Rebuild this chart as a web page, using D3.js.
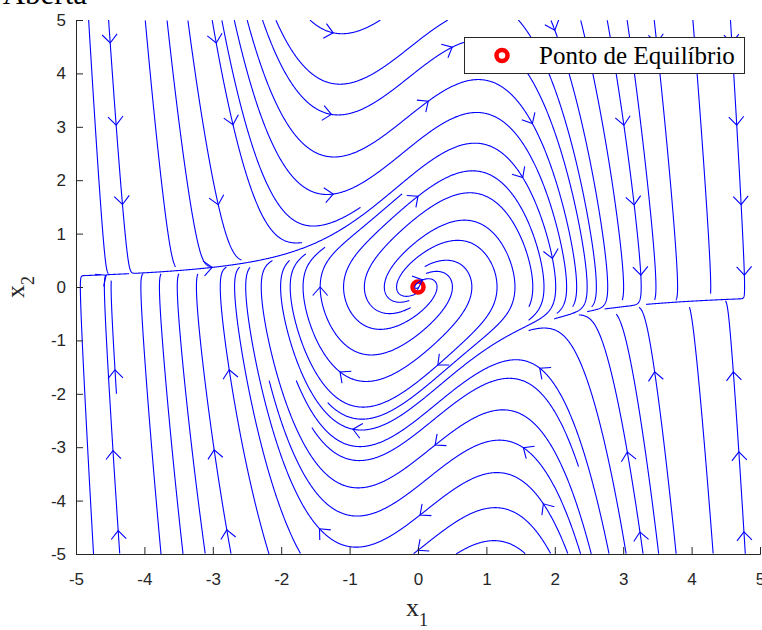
<!DOCTYPE html>
<html>
<head>
<meta charset="utf-8">
<script src="https://cdnjs.cloudflare.com/ajax/libs/d3/7.8.5/d3.min.js"></script>
<style>
  body { margin: 0; background: #fff; }
  svg { display: block; }
</style>
</head>
<body>
<div id="chart"></div>
<script>
var width = 762,
    height = 630;

// axis ticks
var xTicks = [-5, -4, -3, -2, -1, 0, 1, 2, 3, 4, 5];
var yTicks = [-5, -4, -3, -2, -1, 0, 1, 2, 3, 4, 5];

// region where the field was sampled (x1 grid stops a little before 5)
var fieldX = [-5, 4.8],
    fieldY = [-5, 5];

// Van der Pol system, x1' = x2, x2' = mu(1 - x1^2)x2 - x1
// mu = 1 fits the flow: it settles on x2 ~ 0.2 at x1 = -5 and x2 ~ -0.2 at x1 = 4.7
var mu = 1;

// arrowheads (x1, x2)
var arrowPts = [
    [-4.50, 4.57], [-4.42, 3.03], [-4.33, 1.54], [-2.95, 4.57], [-2.72, 3.03], [-2.92, 1.54],
    [-4.56, 0.22], [-3.01, 0.37], [-1.24, 4.76], [0.50, 4.49], [-1.26, 3.26], [0.15, 3.48],
    [-1.24, 1.74], [0.00, 1.70], [1.54, 2.06], [-1.43, 0.00], [0.07, 0.13], [2.00, 4.81],
    [1.68, 3.07], [3.01, 3.03], [4.66, 3.03], [3.17, 1.54], [4.72, 1.54], [1.99, 0.54],
    [3.25, 0.22], [4.75, 0.22], [3.49, 4.57], [4.61, 4.57], [-4.43, -1.55], [-4.36, -3.05],
    [-4.27, -4.55], [-2.76, -1.55], [-2.98, -3.05], [-2.78, -4.55], [0.29, -1.46], [-1.14, -1.59],
    [-0.95, -2.68], [0.25, -2.96], [1.54, -3.01], [0.03, -4.27], [-1.46, -4.55], [0.00, -4.93],
    [1.78, -1.52], [3.46, -1.59], [4.61, -1.59], [3.06, -3.09], [4.69, -3.09], [1.81, -4.08],
    [3.25, -4.59], [4.75, -4.59]
];

var equilibrium = [[0, 0]];
var legendLabels = ["Ponto de Equilíbrio"];

var x = d3.scaleLinear().domain([-5, 5]).range([76, 760]);
var y = d3.scaleLinear().domain([-5, 5]).range([554, 20]);

var svg = d3.select("#chart")
    .append("svg")
    .attr("width", width)
    .attr("height", height)
    .attr("font-family", "'Liberation Sans', Arial, sans-serif");

svg.append("defs").append("clipPath")
    .attr("id", "plotclip")
    .append("rect")
    .attr("x", 76).attr("y", 20)
    .attr("width", 684).attr("height", 534);

// ---- streamlines, same idea as matlab streamslice ----
var nStart = 20, nEnd = 80;
var startGrid = new Uint8Array(nStart * nStart),
    endGrid = new Uint8Array(nEnd * nEnd);
var xr = fieldX[1] - fieldX[0], yr = fieldY[1] - fieldY[0];

function cellOf(p, n) {
    var c = Math.min(n - 1, Math.max(0, Math.floor((p[0] - fieldX[0]) / xr * n)));
    var r = Math.min(n - 1, Math.max(0, Math.floor((p[1] - fieldY[0]) / yr * n)));
    return r * n + c;
}

function inside(p) {
    return p[0] >= fieldX[0] && p[0] <= fieldX[1] && p[1] >= fieldY[0] && p[1] <= fieldY[1];
}

function dir(p) {
    var u = p[1],
        v = mu * (1 - p[0] * p[0]) * p[1] - p[0];
    var m = Math.sqrt(u * u + v * v);
    if (m < 1e-9) return null;
    return [u / m, v / m];
}

function step(p, h) {
    var k1 = dir(p); if (!k1) return null;
    var k2 = dir([p[0] + h / 2 * k1[0], p[1] + h / 2 * k1[1]]); if (!k2) return null;
    var k3 = dir([p[0] + h / 2 * k2[0], p[1] + h / 2 * k2[1]]); if (!k3) return null;
    var k4 = dir([p[0] + h * k3[0], p[1] + h * k3[1]]); if (!k4) return null;
    return [p[0] + h / 6 * (k1[0] + 2 * k2[0] + 2 * k3[0] + k4[0]),
            p[1] + h / 6 * (k1[1] + 2 * k2[1] + 2 * k3[1] + k4[1])];
}

function nearEquilibrium(p) {
    return equilibrium.some(function(e) {
        return Math.abs(p[0] - e[0]) < 0.004 && Math.abs(p[1] - e[1]) < 0.004;
    });
}

function trace(p0, sgn) {
    var pts = [p0], p = p0, c = cellOf(p0, nEnd);
    for (var i = 0; i < 8000; i++) {
        var q = step(p, sgn * 0.01);
        if (!q || !inside(q)) break;
        var c2 = cellOf(q, nEnd);
        if (c2 !== c) {
            if (endGrid[c2]) break;
            endGrid[c2] = 1;
            startGrid[cellOf(q, nStart)] = 1;
            c = c2;
        }
        pts.push(q);
        p = q;
        if (nearEquilibrium(q)) break;
    }
    return pts;
}

var lines = [];

function seed(p, force) {
    var sc = cellOf(p, nStart), ec = cellOf(p, nEnd);
    if (endGrid[ec]) return;
    if (startGrid[sc] && !force) return;
    startGrid[sc] = 1;
    endGrid[ec] = 1;
    var back = trace(p, -1),
        fwd = trace(p, 1);
    lines.push(back.reverse().concat(fwd.slice(1)));
}

function nearestVertex(p) {
    var best = null, bd = Infinity;
    var px = x(p[0]), py = y(p[1]);
    lines.forEach(function(l) {
        l.forEach(function(q) {
            var dx = x(q[0]) - px, dy = y(q[1]) - py, d = dx * dx + dy * dy;
            if (d < bd) { bd = d; best = q; }
        });
    });
    return {p: best, d: Math.sqrt(bd)};
}

// lines through the arrowheads first, then fill the start grid
arrowPts.forEach(function(p) {
    var nv = lines.length ? nearestVertex(p) : {d: Infinity};
    seed(p, nv.d > 7);
});
for (var k = 0; k < nStart * nStart; k++) {
    var idx = (k * 97) % (nStart * nStart);
    var r = Math.floor(idx / nStart), c = idx % nStart;
    seed([fieldX[0] + (c + 0.5) * xr / nStart, fieldY[0] + (r + 0.5) * yr / nStart], false);
}

var plot = svg.append("g").attr("clip-path", "url(#plotclip)");

// equilibrium marker (below the streamlines, as in the figure)
plot.selectAll(".eq")
    .data(equilibrium)
    .enter()
    .append("circle")
    .attr("class", "eq")
    .attr("cx", function(d) { return x(d[0]); })
    .attr("cy", function(d) { return y(d[1]); })
    .attr("r", 5.5)
    .attr("fill", "none")
    .attr("stroke", "#ff0000")
    .attr("stroke-width", 4.5);

var line = d3.line()
    .x(function(d) { return x(d[0]); })
    .y(function(d) { return y(d[1]); });

plot.selectAll(".stream")
    .data(lines.filter(function(l) { return l.length > 2; }))
    .enter()
    .append("path")
    .attr("class", "stream")
    .attr("d", line)
    .attr("fill", "none")
    .attr("stroke", "#0000ff")
    .attr("stroke-width", 1.1);

// arrowheads
var arrows = arrowPts.map(function(p) {
    var nv = nearestVertex(p);
    var q = nv.d < 9 ? nv.p : p;
    var d = dir(q) || [1, 0];
    var dx = d[0] * 68.4, dy = -d[1] * 53.4, m = Math.sqrt(dx * dx + dy * dy);
    return {px: x(q[0]), py: y(q[1]), ux: dx / m, uy: dy / m};
});

plot.selectAll(".arrow")
    .data(arrows)
    .enter()
    .append("path")
    .attr("class", "arrow")
    .attr("d", function(a) {
        var L = 8.5, W = 7.5;
        var bx = a.px - L * a.ux, by = a.py - L * a.uy;
        return "M" + (bx - W * a.uy) + "," + (by + W * a.ux) +
               "L" + a.px + "," + a.py +
               "L" + (bx + W * a.uy) + "," + (by - W * a.ux);
    })
    .attr("fill", "none")
    .attr("stroke", "#0000ff")
    .attr("stroke-width", 1.1);

// ---- axes ----
var xAxis = svg.append("g")
    .attr("transform", "translate(0,554)")
    .call(d3.axisBottom(x).tickValues(xTicks).tickSize(-7).tickPadding(19)
        .tickFormat(function(d) { return String(d); }));

var yAxis = svg.append("g")
    .attr("transform", "translate(76,0)")
    .call(d3.axisLeft(y).tickValues(yTicks).tickSize(-7).tickPadding(10)
        .tickFormat(function(d) { return String(d); }));

[xAxis, yAxis].forEach(function(a) {
    a.select(".domain").attr("stroke", "#262626").attr("stroke-width", 1);
    a.selectAll(".tick line").attr("stroke", "#262626");
    a.selectAll(".tick text")
        .attr("fill", "#262626")
        .attr("font-size", 17)
        .attr("font-family", "'Liberation Sans', Arial, sans-serif");
});

// axis labels
var xl = svg.append("text")
    .attr("x", 417).attr("y", 616)
    .attr("text-anchor", "middle")
    .attr("font-family", "'Liberation Serif', 'Times New Roman', serif")
    .attr("font-size", 26)
    .attr("fill", "#262626");
xl.append("tspan").text("x");
xl.append("tspan").attr("font-size", 18).attr("dy", 10).text("1");

var yl = svg.append("text")
    .attr("transform", "translate(24,287) rotate(-90)")
    .attr("text-anchor", "middle")
    .attr("font-family", "'Liberation Serif', 'Times New Roman', serif")
    .attr("font-size", 26)
    .attr("fill", "#262626");
yl.append("tspan").text("x");
yl.append("tspan").attr("font-size", 18).attr("dy", 10).text("2");

// title, mostly outside the frame
svg.append("text")
    .attr("x", 87).attr("y", 3.5)
    .attr("text-anchor", "end")
    .attr("font-family", "'Liberation Serif', 'Times New Roman', serif")
    .attr("font-size", 31)
    .attr("fill", "#000")
    .text("Aberta");

// legend
var legend = svg.append("g").attr("transform", "translate(464.5,37.5)");
legend.append("rect")
    .attr("width", 280).attr("height", 36)
    .attr("fill", "#fff")
    .attr("stroke", "#262626")
    .attr("stroke-width", 1);
legend.selectAll(".lg")
    .data(legendLabels)
    .enter()
    .append("g")
    .attr("class", "lg")
    .each(function(d) {
        var g = d3.select(this);
        g.append("circle")
            .attr("cx", 37.5).attr("cy", 18)
            .attr("r", 5.5)
            .attr("fill", "none")
            .attr("stroke", "#ff0000")
            .attr("stroke-width", 4.5);
        g.append("text")
            .attr("x", 74.5).attr("y", 26.5)
            .attr("font-family", "'Liberation Serif', 'Times New Roman', serif")
            .attr("font-size", 25)
            .attr("fill", "#000")
            .text(d);
    });
</script>
</body>
</html>
